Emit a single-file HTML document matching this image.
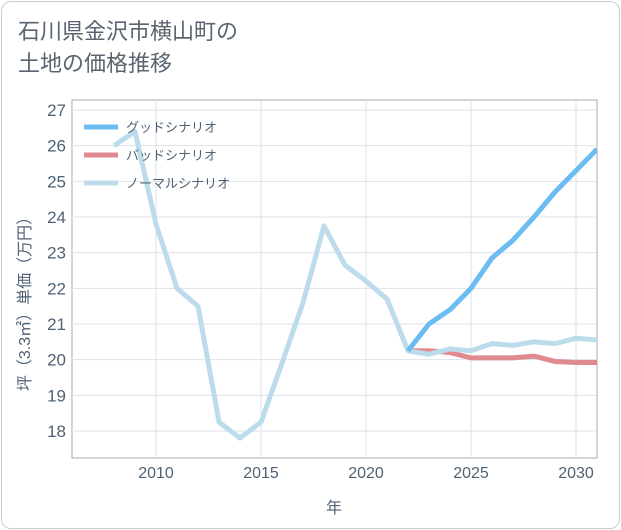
<!DOCTYPE html>
<html><head><meta charset="utf-8"><style>
body{margin:0;background:#fff;font-family:"Liberation Sans","Noto Sans CJK JP",sans-serif;}
#card{position:absolute;left:1px;top:1px;width:617px;height:526px;border:1px solid #ccc;border-radius:10px;background:#fff;}
#title{position:absolute;left:18px;top:16px;font-size:22px;line-height:32px;color:#5a6570;}
svg{position:absolute;left:0;top:0;}
</style></head><body>
<div id="card"></div>
<div id="title">石川県金沢市横山町の<br>土地の価格推移</div>
<svg id="chart" width="621" height="530"></svg>
<script>
const years=[2008,2009,2010,2011,2012,2013,2014,2015,2016,2017,2018,2019,2020,2021,2022,2023,2024,2025,2026,2027,2028,2029,2030,2031];
const normal=[26.0,26.4,23.8,22.0,21.5,18.25,17.8,18.25,19.9,21.6,23.75,22.65,22.2,21.7,20.25,20.15,20.3,20.25,20.45,20.4,20.5,20.45,20.6,20.55];
const goodYears=[2022,2023,2024,2025,2026,2027,2028,2029,2030,2031];
const good=[20.25,21.0,21.4,22.0,22.85,23.35,24.0,24.7,25.3,25.9];
const bad=[20.25,20.25,20.2,20.05,20.05,20.05,20.1,19.95,19.92,19.92];
const xTicks=[2010,2015,2020,2025,2030];
const yTicks=[18,19,20,21,22,23,24,25,26,27];
const L=72,R=597,T=100,B=458;
const TXT='#4f6274';
const x=v=>L+(v-2006)/(2031-2006)*(R-L);
const y=v=>431-(v-18)*(431-110)/9;
const svg=document.getElementById('chart');
const NS='http://www.w3.org/2000/svg';
function mk(t,a,p){const e=document.createElementNS(NS,t);for(const k in a)e.setAttribute(k,a[k]);(p||svg).appendChild(e);return e;}
let e=mk('rect',{x:L,y:T,width:R-L,height:B-T,fill:'none',stroke:'#aaa'});


xTicks.forEach(t=>{
 let g=mk('line',{x1:x(t),x2:x(t),y1:T,y2:B,stroke:'#dde3ea'});
 
 
 let l=mk('text',{x:x(t),y:478,'text-anchor':'middle','font-size':16,fill:TXT});l.textContent=t;
 
 
});
yTicks.forEach(t=>{
 let g=mk('line',{x1:L,x2:R,y1:y(t),y2:y(t),stroke:'#dde3ea'});
 
 
 let l=mk('text',{x:66,y:y(t)+6,'text-anchor':'end','font-size':17,fill:TXT});l.textContent=t;
 
 
});
let xt=mk('text',{x:334,y:513,'text-anchor':'middle','font-size':16,fill:TXT});xt.textContent='年';


let yt=mk('text',{x:30,y:300,'text-anchor':'middle','font-size':16,fill:TXT,transform:'rotate(-90 30 300)'});yt.textContent='坪（3.3㎡）単価（万円）';


const defs=mk('defs',{});const cp=mk('clipPath',{id:'c'},defs);mk('rect',{x:L,y:T,width:R-L,height:B-T},cp);
function line(xs,vs,col,name){
 const p=mk('polyline',{points:xs.map((yr,i)=>x(yr)+','+y(vs[i])).join(' '),fill:'none',stroke:col,'stroke-width':5,'stroke-linejoin':'round','clip-path':'url(#c)'});
 
 
}
line(goodYears,bad,'#e08a90','bad-scenario-line');
line(years,normal,'#bcdceb','normal-scenario-line');
line(goodYears,good,'#6bbcf0','good-scenario-line');
[['グッドシナリオ','#6bbcf0',127],['バッドシナリオ','#e08a90',155],['ノーマルシナリオ','#bcdceb',183]].forEach(([t,c,yy])=>{
 let s=mk('line',{x1:84,x2:118,y1:yy,y2:yy,stroke:c,'stroke-width':5});
 
 
 let l=mk('text',{x:126,y:yy+5,'font-size':13,fill:TXT});l.textContent=t;
 
 
});
</script>
</body></html>
